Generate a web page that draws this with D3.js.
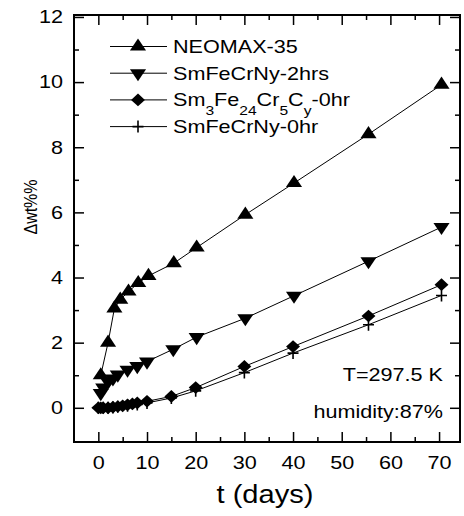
<!DOCTYPE html>
<html lang="en">
<head>
<meta charset="UTF-8">
<title>Δwt% vs t (days)</title>
<script src="https://d3js.org/d3.v7.min.js"></script>
<style>
    body { margin: 0; padding: 0; background: #fff; }
    svg { display: block; background: #fff; }
    text { font-family: "Liberation Sans", Arial, sans-serif; fill: #000; }
    .tick line { stroke: #000; stroke-width: 1.5; }
</style>
</head>
<body>
<svg width="464" height="516"></svg>
<script>
    // data
    const neoDays = [0.5, 2, 3.3, 4.5, 6.2, 8.2, 10.3, 15.5, 20.2, 30.2, 40.2, 55.5, 70.5];
    const neoWt   = [1.0, 2.0, 3.05, 3.32, 3.57, 3.83, 4.05, 4.44, 4.92, 5.93, 6.9, 8.4, 9.92];

    const h2Days = [0.5, 1, 2, 3, 4, 6, 8, 10, 15.4, 20.2, 30.2, 40.2, 55.5, 70.5];
    const h2Wt   = [0.45, 0.62, 0.8, 0.9, 1.02, 1.17, 1.28, 1.42, 1.8, 2.17, 2.75, 3.44, 4.5, 5.55];

    const smcDays = [0, 0.5, 1, 2, 3, 4, 5, 6, 7, 8, 10, 15, 20, 30, 40, 55.5, 70.5];
    const smcWt   = [0, 0, 0, 0, 0.02, 0.04, 0.06, 0.09, 0.12, 0.15, 0.2, 0.35, 0.62, 1.27, 1.88, 2.82, 3.78];

    const h0Days = [0, 1, 2, 3, 4, 6, 8, 10, 15, 20, 30, 40, 55.5, 70.5];
    const h0Wt   = [0, 0, 0, 0.01, 0.03, 0.06, 0.1, 0.15, 0.3, 0.52, 1.08, 1.68, 2.55, 3.45];

    const xMajor = [0, 10, 20, 30, 40, 50, 60, 70];
    const xMinor = [5, 15, 25, 35, 45, 55, 65];
    const yMajor = [0, 2, 4, 6, 8, 10, 12];
    const yMinor = [1, 3, 5, 7, 9, 11];

    const svg = d3.select("svg");
    const sx = 1.2; // text in the scan is a little wide

    const x = d3.scaleLinear().domain([-5, 74.3]).range([74, 460]);
    const y = d3.scaleLinear().domain([-1.05, 12.06]).range([442, 15]);

    const W = 460, T = 15, B = 442, L = 74;

    // axes with inward ticks
    function noDomain(g) { g.select(".domain").remove(); }

    svg.append("g").attr("transform", `translate(0,${B})`)
        .call(d3.axisBottom(x).tickValues(xMajor).tickSize(-10).tickPadding(14))
        .call(noDomain)
        .call(g => g.selectAll("text").attr("font-size", 18).attr("transform", `scale(${sx},1)`)
            .style("font-family", "'Liberation Sans', Arial, sans-serif"));
    svg.append("g").attr("transform", `translate(0,${B})`)
        .call(d3.axisBottom(x).tickValues(xMinor).tickSize(-5).tickFormat(""))
        .call(noDomain);
    svg.append("g").attr("transform", `translate(0,${T})`)
        .call(d3.axisTop(x).tickValues(xMajor).tickSize(-10).tickFormat(""))
        .call(noDomain);
    svg.append("g").attr("transform", `translate(0,${T})`)
        .call(d3.axisTop(x).tickValues(xMinor).tickSize(-5).tickFormat(""))
        .call(noDomain);

    svg.append("g").attr("transform", `translate(${L},0)`)
        .call(d3.axisLeft(y).tickValues(yMajor).tickSize(-10).tickPadding(11))
        .call(noDomain)
        .call(g => g.selectAll("text").attr("font-size", 18).attr("x", -11 / sx)
            .attr("transform", `scale(${sx},1)`)
            .style("font-family", "'Liberation Sans', Arial, sans-serif"));
    svg.append("g").attr("transform", `translate(${L},0)`)
        .call(d3.axisLeft(y).tickValues(yMinor).tickSize(-5).tickFormat(""))
        .call(noDomain);
    svg.append("g").attr("transform", `translate(${W},0)`)
        .call(d3.axisRight(y).tickValues(yMajor).tickSize(-10).tickFormat(""))
        .call(noDomain);
    svg.append("g").attr("transform", `translate(${W},0)`)
        .call(d3.axisRight(y).tickValues(yMinor).tickSize(-5).tickFormat(""))
        .call(noDomain);

    svg.append("rect")
        .attr("x", L).attr("y", T).attr("width", W - L).attr("height", B - T)
        .attr("fill", "none").attr("stroke", "#000").attr("stroke-width", 2);

    // markers
    const triUp = d3.symbol().type(d3.symbolTriangle).size(85)();
    const square = d3.symbol().type(d3.symbolSquare).size(80)();
    const plusPath = "M-5.5,0H5.5M0,-6V6";

    function marker(g, kind) {
        if (kind === "up") g.append("path").attr("d", triUp).attr("transform", "scale(1.15,1)").attr("fill", "#000");
        else if (kind === "down") g.append("path").attr("d", triUp).attr("transform", "rotate(180) scale(1.15,1)").attr("fill", "#000");
        else if (kind === "diamond") g.append("path").attr("d", square).attr("transform", "scale(1.1,1) rotate(45)").attr("fill", "#000");
        else g.append("path").attr("d", plusPath).attr("stroke", "#000").attr("stroke-width", 1.6).attr("fill", "none");
    }

    const series = [
        { days: h0Days, wt: h0Wt, kind: "plus" },
        { days: smcDays, wt: smcWt, kind: "diamond" },
        { days: h2Days, wt: h2Wt, kind: "down" },
        { days: neoDays, wt: neoWt, kind: "up" }
    ];

    const line = d3.line().x(d => x(d[0])).y(d => y(d[1]));

    series.forEach(s => {
        const pts = s.days.map((d, i) => [d, s.wt[i]]);
        svg.append("path").datum(pts)
            .attr("d", line).attr("fill", "none").attr("stroke", "#000").attr("stroke-width", 1);
        svg.append("g").selectAll("g").data(pts).join("g")
            .attr("transform", d => `translate(${x(d[0])},${y(d[1])})`)
            .each(function () { marker(d3.select(this), s.kind); });
    });

    // legend
    const legendRows = [
        { kind: "up", label: "NEOMAX-35" },
        { kind: "down", label: "SmFeCrNy-2hrs" },
        { kind: "diamond", label: null },
        { kind: "plus", label: "SmFeCrNy-0hr" }
    ];
    legendRows.forEach((r, i) => {
        const base = 53 + i * 26.7;
        const my = base - 6.5;
        svg.append("line").attr("x1", 110).attr("x2", 167).attr("y1", my).attr("y2", my)
            .attr("stroke", "#000").attr("stroke-width", 1);
        const g = svg.append("g").attr("transform", `translate(138,${my})`);
        marker(g, r.kind);
        const t = svg.append("text")
            .attr("transform", `translate(173,${base}) scale(${sx},1)`)
            .attr("font-size", 18);
        if (r.label) t.text(r.label);
        else {
            const parts = [["Sm", 0], ["3", 1], ["Fe", 0], ["24", 1], ["Cr", 0], ["5", 1], ["C", 0], ["y", 1], ["-0hr", 0]];
            let prev = 0;
            parts.forEach(([s, sub]) => {
                const off = sub ? 9 : 0;
                t.append("tspan").attr("dy", off - prev).attr("font-size", sub ? 13 : 18).text(s);
                prev = off;
            });
        }
    });

    // annotations
    svg.append("text").attr("transform", `translate(443,381) scale(${sx},1)`)
        .attr("text-anchor", "end").attr("font-size", 18).text("T=297.5 K");
    svg.append("text").attr("transform", `translate(443,418) scale(${sx},1)`)
        .attr("text-anchor", "end").attr("font-size", 18).text("humidity:87%");

    // axis titles
    svg.append("text").attr("transform", "translate(265,503) scale(1.12,1)")
        .attr("text-anchor", "middle").attr("font-size", 26).text("t (days)");
    svg.append("text").attr("transform", "translate(36.5,207) rotate(-90) scale(1,1.2)")
        .attr("text-anchor", "middle").attr("font-size", 16).text("Δwt%%");
</script>
</body>
</html>
